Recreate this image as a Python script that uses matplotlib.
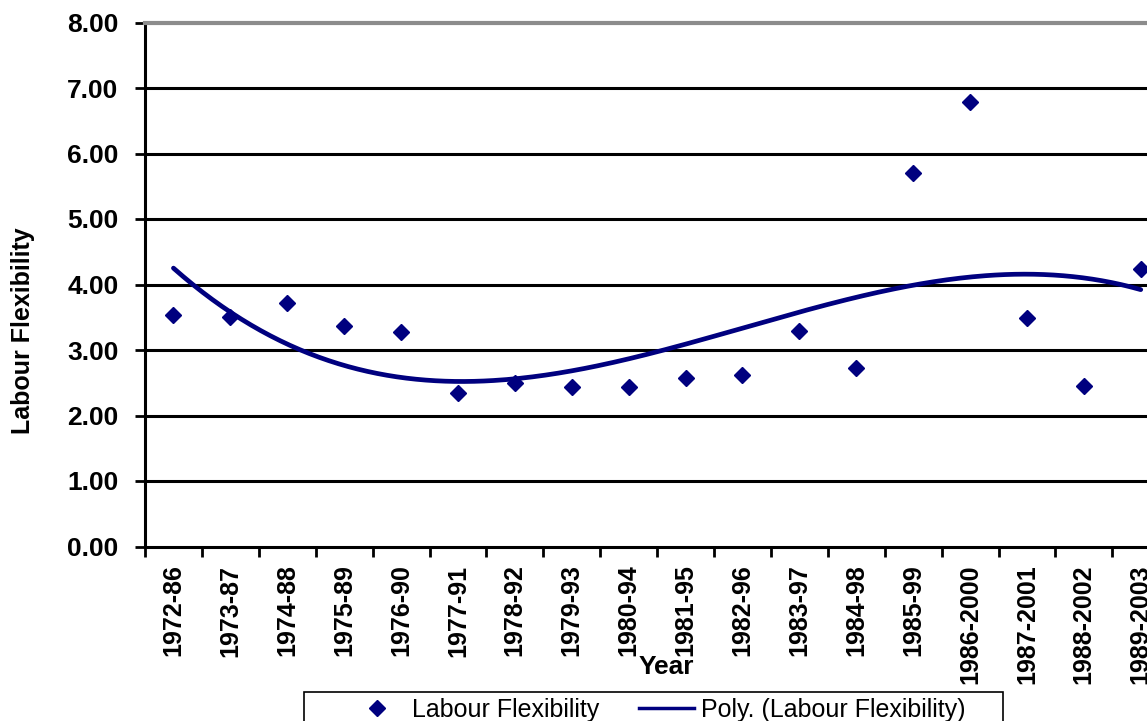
import numpy as np
import matplotlib
matplotlib.use("Agg")
import matplotlib.pyplot as plt
from matplotlib.patches import Rectangle
from matplotlib.lines import Line2D

periods = ["1972-86", "1973-87", "1974-88", "1975-89", "1976-90", "1977-91",
           "1978-92", "1979-93", "1980-94", "1981-95", "1982-96", "1983-97",
           "1984-98", "1985-99", "1986-2000", "1987-2001", "1988-2002", "1989-2003"]
labour_flex = [3.54, 3.51, 3.71, 3.36, 3.27, 2.35, 2.50, 2.43, 2.43, 2.58,
               2.62, 3.29, 2.73, 5.70, 6.79, 3.49, 2.45, 4.23]
y_ticks = [0, 1, 2, 3, 4, 5, 6, 7, 8]

plt.rcParams['font.family'] = ['Liberation Sans', 'DejaVu Sans']

W, H = 1147, 721
fig = plt.figure(figsize=(W / 100, H / 100), dpi=100)
ax = fig.add_axes([145 / W, (H - 546.5) / H, 18 * 56.9 / W, 524 / H])

navy = "#00007f"
x = np.arange(1, len(periods) + 1)
ax.plot(x, labour_flex, linestyle="none", marker="D", markersize=8.5,
        color=navy, zorder=4, clip_on=False)

coef = np.polyfit(x, labour_flex, 3)
xs = np.linspace(1, len(periods), 300)
ax.plot(xs, np.polyval(coef, xs), color=navy, lw=3.4, zorder=3,
        solid_capstyle="round")

ax.set_xlim(0.5, len(periods) + 0.5)
ax.set_ylim(0, 8)

for v in y_ticks[1:-1]:
    ax.axhline(v, color="black", lw=2.2, zorder=1)

ax.spines['top'].set_color("#8c8c8c")
ax.spines['top'].set_linewidth(3)
ax.spines['right'].set_visible(False)
ax.spines['left'].set_linewidth(2.2)
ax.spines['bottom'].set_linewidth(2.2)

ax.set_yticks(y_ticks)
ax.set_yticklabels([f"{v:.2f}" for v in y_ticks], fontsize=19, fontweight="bold")
ax.tick_params(axis="y", length=7, width=2, pad=12)

ax.set_xticks(x)
ax.set_xticklabels(periods, rotation=90, fontsize=18, fontweight="bold", va="top")
ax.tick_params(axis="x", which="major", length=0, pad=13)
ax.set_xticks(np.arange(0.5, len(periods) + 0.5, 1.0), minor=True)
ax.tick_params(axis="x", which="minor", length=7, width=2)

fig.text(23 / W, 1 - 331 / H, "Labour Flexibility", rotation=90, fontsize=18,
         fontweight="bold", ha="center", va="center")
fig.text(666 / W, 1 - 667 / H, "Year", fontsize=19, fontweight="bold",
         ha="center", va="center")

# legend
fig.patches.append(Rectangle((304 / W, -0.05), (1003 - 304) / W, (1 - 692 / H) + 0.05,
                             transform=fig.transFigure, fill=False,
                             edgecolor="black", lw=1.2))
handles = [Line2D([], [], linestyle="none", marker="D", markersize=8, color=navy),
           Line2D([], [], color=navy, lw=2.5)]
fig.legend(handles, ["Labour Flexibility", "Poly. (Labour Flexibility)"],
           loc="upper left", bbox_to_anchor=(349 / W, 1 - 698 / H), ncol=2,
           frameon=False, fontsize=18, borderpad=0, borderaxespad=0,
           handlelength=2.2, handletextpad=0.3, columnspacing=1.6)

fig.savefig("out.png", dpi=100)
